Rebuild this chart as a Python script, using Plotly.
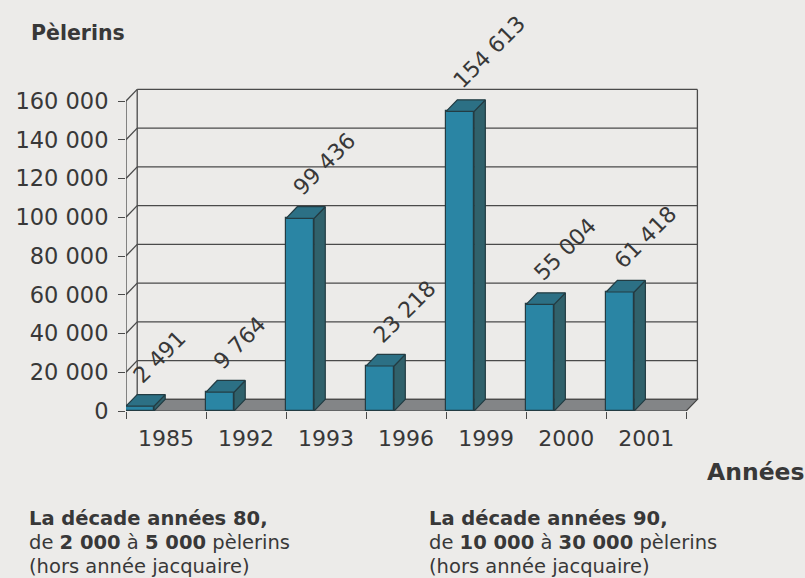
import plotly.graph_objects as go

# Données : nombre de pèlerins par année
annees = ["1985", "1992", "1993", "1996", "1999", "2000", "2001"]
pelerins = [2491, 9764, 99436, 23218, 154613, 55004, 61418]
etiquettes = ["2 491", "9 764", "99 436", "23 218", "154 613", "55 004", "61 418"]
graduations = [0, 20000, 40000, 60000, 80000, 100000, 120000, 140000, 160000]
textes_graduations = ["0", "20 000", "40 000", "60 000", "80 000",
                      "100 000", "120 000", "140 000", "160 000"]

bloc_80 = ["<b>La décade années 80,</b>",
           "de <b>2 000</b> à <b>5 000</b> pèlerins",
           "(hors année jacquaire)"]
bloc_90 = ["<b>La décade années 90,</b>",
           "de <b>10 000</b> à <b>30 000</b> pèlerins",
           "(hors année jacquaire)"]

# Mise en page (pixels)
W, H = 805, 578
ML, MR, MT, MB = 126, 106, 85, 167
PW, PH = W - ML - MR, H - MT - MB
Y_MAX = PH * 160000 / 310
X_MIN, X_MAX = -0.5, 6.66

# Profondeur simulée (effet 3D)
PX, PY = 0.14, 6000
LARG = 0.35

FOND = "#ecebe9"
TEXTE = "#383838"
TRAIT = "#4a4a4a"
FACE = "#2a85a4"
COTE = "#30616b"
DESSUS = "#2c7085"
CONTOUR = "#233c43"
SOL = "#838587"

POLICE = "DejaVu Sans"


def px_x(px):
    return (px - ML) / PW


def px_y(py):
    return (H - MB - py) / PH


idx = list(range(len(annees)))
n = len(annees)
x_gauche = -0.5
x_droite = n - 0.5

fig = go.Figure()

# Faces avant des barres
fig.add_trace(go.Bar(
    x=idx, y=pelerins, width=LARG, offset=-0.5,
    marker=dict(color=FACE, line=dict(color=CONTOUR, width=1.2)),
    hoverinfo="skip", showlegend=False,
))

# Faces latérales et dessus des barres
cx, cy, tx, ty = [], [], [], []
for i, v in zip(idx, pelerins):
    g = i - 0.5
    d = g + LARG
    cx += [d, d + PX, d + PX, d, d, None]
    cy += [0, PY, v + PY, v, 0, None]
    tx += [g, d, d + PX, g + PX, g, None]
    ty += [v, v, v + PY, v + PY, v, None]

fig.add_trace(go.Scatter(
    x=cx, y=cy, mode="lines", fill="toself", fillcolor=COTE,
    line=dict(color=CONTOUR, width=1.2), hoverinfo="skip", showlegend=False,
))
fig.add_trace(go.Scatter(
    x=tx, y=ty, mode="lines", fill="toself", fillcolor=DESSUS,
    line=dict(color=CONTOUR, width=1.2), hoverinfo="skip", showlegend=False,
))

shapes = []
# Sol
shapes.append(dict(
    type="path", xref="x", yref="y", layer="below",
    path=f"M {x_gauche},0 L {x_droite},0 L {x_droite + PX},{PY} L {x_gauche + PX},{PY} Z",
    fillcolor=SOL, line=dict(color="#444", width=1.2),
))
# Quadrillage du mur du fond et de la paroi latérale
for g in graduations:
    shapes.append(dict(
        type="line", xref="x", yref="y", layer="below",
        x0=x_gauche + PX, y0=g + PY, x1=x_droite + PX, y1=g + PY,
        line=dict(color=TRAIT, width=1.3),
    ))
    shapes.append(dict(
        type="line", xref="x", yref="y", layer="below",
        x0=x_gauche, y0=g, x1=x_gauche + PX, y1=g + PY,
        line=dict(color=TRAIT, width=1.3),
    ))
# Arêtes verticales du fond et axe avant
for xv in (x_gauche + PX, x_droite + PX):
    shapes.append(dict(
        type="line", xref="x", yref="y", layer="below",
        x0=xv, y0=PY, x1=xv, y1=graduations[-1] + PY,
        line=dict(color=TRAIT, width=1.3),
    ))
shapes.append(dict(
    type="line", xref="x", yref="y", layer="below",
    x0=x_gauche, y0=0, x1=x_gauche, y1=graduations[-1],
    line=dict(color=TRAIT, width=1.3),
))

annotations = []
# Valeurs au-dessus des barres
for i, v, t in zip(idx, pelerins, etiquettes):
    annotations.append(dict(
        x=i - 0.5, y=v + PY, xref="x", yref="y", text=t, showarrow=False,
        textangle=-45, xanchor="left", yanchor="bottom", xshift=0, yshift=4,
        font=dict(family=POLICE, size=22, color=TEXTE),
    ))

annotations.append(dict(
    x=px_x(29), y=px_y(33), xref="paper", yref="paper", text="<b>Pèlerins</b>",
    showarrow=False, xanchor="left", yanchor="middle",
    font=dict(family=POLICE, size=20.5, color=TEXTE),
))
annotations.append(dict(
    x=px_x(705), y=px_y(472), xref="paper", yref="paper", text="<b>Années</b>",
    showarrow=False, xanchor="left", yanchor="middle",
    font=dict(family=POLICE, size=23.5, color=TEXTE),
))
for x0, bloc in ((27, bloc_80), (427, bloc_90)):
    for k, ligne in enumerate(bloc):
        annotations.append(dict(
            x=px_x(x0), y=px_y(518 + 24 * k), xref="paper", yref="paper",
            text=ligne, showarrow=False, xanchor="left", yanchor="middle",
            font=dict(family=POLICE, size=19.5, color=TEXTE),
        ))

fig.update_layout(
    width=W, height=H,
    margin=dict(l=ML, r=MR, t=MT, b=MB),
    paper_bgcolor=FOND, plot_bgcolor=FOND,
    shapes=shapes, annotations=annotations,
    bargap=0,
    xaxis=dict(
        range=[X_MIN, X_MAX], tickmode="array", tickvals=idx, ticktext=annees,
        ticks="outside", ticklen=8, tickcolor="rgba(0,0,0,0)",
        showgrid=False, zeroline=False, showline=False,
        tickfont=dict(family=POLICE, size=22, color=TEXTE),
        minor=dict(tickmode="array", tickvals=[k - 0.5 for k in range(n + 1)],
                   ticks="outside", ticklen=7, tickcolor=TRAIT, tickwidth=1.3,
                   showgrid=False),
    ),
    yaxis=dict(
        range=[0, Y_MAX], tickmode="array", tickvals=graduations,
        ticktext=textes_graduations, ticks="outside", ticklen=7,
        tickcolor=TRAIT, tickwidth=1.3, ticklabelstandoff=5,
        showgrid=False, zeroline=False, showline=False,
        tickfont=dict(family=POLICE, size=22.5, color=TEXTE),
    ),
)

fig.write_html("out.html")
